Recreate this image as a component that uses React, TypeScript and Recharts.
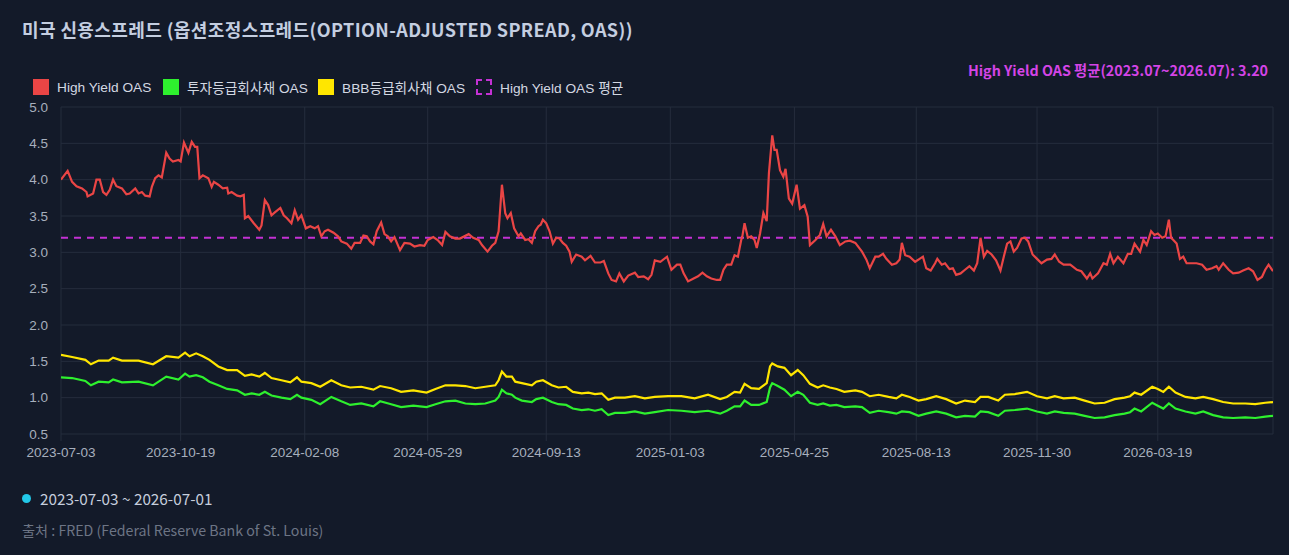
import React from 'react';
import { LineChart, Line, XAxis, YAxis, CartesianGrid, ReferenceLine } from 'recharts';

// x values are days since 2023-07-03
const START_DATE = '2023-07-03';
const END_DATE = '2026-07-01';

const tickDates = ['2023-07-03', '2023-10-19', '2024-02-08', '2024-05-29', '2024-09-13', '2025-01-03', '2025-04-25', '2025-08-13', '2025-11-30', '2026-03-19'];
const yTicks = [0.5, 1.0, 1.5, 2.0, 2.5, 3.0, 3.5, 4.0, 4.5, 5.0];
const hyAverage = 3.2;

// High Yield OAS: [day, value]
const hyPoints: [number, number][] = [
  [0,4.00],[6,4.12],[10,3.97],[14,3.91],[19,3.88],[23,3.83],[24,3.77],[29,3.81],[32,4.00],[35,4.00],
  [38,3.83],[41,3.79],[44,3.86],[47,4.00],[50,3.91],[55,3.88],[59,3.80],[62,3.81],[67,3.88],[70,3.81],
  [73,3.83],[76,3.78],[80,3.77],[82,3.90],[85,4.02],[88,4.06],[91,4.03],[95,4.37],[98,4.29],[101,4.25],
  [106,4.27],[108,4.25],[111,4.51],[115,4.37],[118,4.52],[121,4.45],[123,4.45],[125,4.02],[128,4.06],[133,4.02],
  [136,3.90],[138,3.97],[142,3.93],[146,3.88],[150,3.89],[151,3.81],[154,3.83],[159,3.78],[162,3.77],[165,3.79],
  [166,3.47],[169,3.50],[174,3.40],[179,3.31],[181,3.37],[184,3.72],[187,3.65],[190,3.51],[193,3.55],[198,3.61],
  [201,3.51],[204,3.47],[208,3.40],[211,3.58],[214,3.45],[217,3.51],[221,3.33],[225,3.36],[229,3.33],[232,3.36],
  [235,3.22],[238,3.29],[241,3.31],[246,3.27],[250,3.22],[253,3.15],[258,3.12],[262,3.05],[265,3.13],[270,3.13],
  [273,3.23],[276,3.22],[279,3.15],[282,3.11],[285,3.29],[289,3.41],[292,3.25],[295,3.22],[298,3.15],[301,3.21],
  [306,3.03],[310,3.13],[315,3.12],[319,3.08],[324,3.10],[328,3.09],[331,3.17],[336,3.21],[340,3.17],[344,3.10],
  [347,3.28],[351,3.22],[356,3.19],[360,3.19],[368,3.25],[372,3.20],[377,3.17],[380,3.10],[385,3.01],[389,3.09],
  [392,3.13],[395,3.29],[397,3.72],[398,3.93],[401,3.54],[403,3.47],[406,3.54],[409,3.33],[413,3.22],[415,3.26],
  [419,3.17],[422,3.18],[425,3.13],[428,3.29],[431,3.36],[433,3.38],[435,3.45],[438,3.40],[441,3.29],[444,3.12],
  [447,3.20],[450,3.19],[453,3.13],[456,3.09],[459,3.01],[461,2.87],[465,2.97],[470,2.94],[473,2.89],[478,2.95],
  [482,2.86],[487,2.86],[490,2.88],[494,2.71],[497,2.62],[501,2.60],[504,2.71],[508,2.60],[512,2.68],[518,2.72],
  [521,2.66],[526,2.67],[530,2.63],[533,2.69],[536,2.89],[541,2.87],[547,2.94],[551,2.76],[556,2.83],[559,2.83],
  [562,2.71],[566,2.60],[571,2.64],[575,2.67],[579,2.72],[583,2.67],[587,2.64],[592,2.62],[595,2.62],[598,2.76],
  [601,2.83],[605,2.83],[608,2.96],[611,2.94],[614,3.17],[615,3.22],[617,3.40],[620,3.20],[623,3.22],[626,3.17],
  [628,3.06],[631,3.26],[634,3.54],[637,3.43],[639,4.09],[642,4.61],[644,4.41],[646,4.41],[649,4.13],[652,4.04],
  [654,4.15],[657,3.74],[660,3.67],[664,3.93],[667,3.60],[671,3.65],[674,3.49],[676,3.10],[681,3.17],[685,3.24],
  [688,3.39],[691,3.22],[695,3.31],[699,3.22],[703,3.10],[708,3.15],[712,3.16],[717,3.13],[723,3.01],[727,2.90],
  [730,2.78],[735,2.94],[738,2.94],[742,2.98],[745,2.91],[750,2.83],[754,2.85],[757,2.90],[759,3.13],[762,2.96],
  [766,2.94],[771,2.87],[775,2.91],[778,2.94],[781,2.78],[785,2.75],[789,2.85],[791,2.91],[795,2.83],[798,2.85],
  [802,2.77],[805,2.78],[808,2.69],[812,2.71],[816,2.76],[820,2.81],[824,2.75],[827,2.85],[830,3.20],[833,2.94],
  [836,3.02],[840,2.97],[844,2.89],[848,2.75],[851,2.94],[854,3.12],[857,3.15],[860,3.01],[863,3.06],[867,3.19],
  [870,3.20],[873,3.15],[877,2.97],[881,2.91],[885,2.85],[890,2.90],[894,2.91],[897,2.97],[901,2.87],[905,2.83],
  [911,2.83],[917,2.76],[921,2.74],[926,2.64],[929,2.71],[931,2.64],[936,2.71],[941,2.85],[944,2.83],[947,2.98],
  [950,2.85],[954,2.94],[959,2.85],[963,2.98],[966,2.98],[969,3.12],[974,3.01],[977,3.17],[980,3.10],[984,3.29],
  [987,3.24],[990,3.26],[994,3.20],[997,3.22],[1000,3.45],[1002,3.20],[1004,3.17],[1007,3.12],[1010,2.91],[1013,2.94],
  [1016,2.85],[1021,2.85],[1025,2.85],[1030,2.83],[1034,2.76],[1039,2.78],[1043,2.81],[1045,2.76],[1049,2.85],[1054,2.76],
  [1058,2.71],[1063,2.72],[1067,2.75],[1072,2.78],[1076,2.74],[1080,2.62],[1084,2.66],[1087,2.76],[1090,2.83],[1094,2.74],
];

// BBB and investment grade OAS: [day, BBB, IG]
const gradePoints: [number, number, number][] = [
  [0,1.59,1.28],[10,1.56,1.27],[22,1.52,1.23],[27,1.46,1.17],[34,1.51,1.22],[43,1.51,1.21],[47,1.55,1.25],[55,1.51,1.21],
  [70,1.51,1.22],[83,1.46,1.17],[95,1.57,1.29],[106,1.55,1.25],[112,1.62,1.33],[116,1.57,1.29],[122,1.61,1.31],[128,1.57,1.28],
  [134,1.52,1.22],[142,1.43,1.17],[150,1.38,1.12],[159,1.38,1.10],[166,1.30,1.04],[172,1.32,1.06],[179,1.29,1.04],[184,1.34,1.08],
  [190,1.27,1.03],[199,1.24,1.00],[207,1.21,0.98],[213,1.28,1.04],[217,1.22,1.00],[226,1.20,0.97],[234,1.15,0.91],[244,1.24,1.01],
  [253,1.17,0.95],[261,1.14,0.90],[271,1.15,0.92],[282,1.11,0.88],[288,1.16,0.95],[298,1.13,0.91],[307,1.08,0.87],[318,1.10,0.89],
  [330,1.07,0.87],[338,1.12,0.91],[347,1.17,0.95],[356,1.17,0.96],[365,1.16,0.92],[374,1.13,0.91],[383,1.15,0.92],[392,1.17,0.96],
  [395,1.24,1.01],[398,1.36,1.11],[402,1.29,1.06],[407,1.29,1.04],[410,1.22,1.00],[416,1.20,0.96],[425,1.17,0.94],[429,1.22,0.98],
  [435,1.24,1.00],[443,1.17,0.94],[449,1.14,0.91],[456,1.15,0.90],[462,1.08,0.85],[470,1.06,0.83],[476,1.07,0.84],[482,1.05,0.82],
  [488,1.06,0.84],[494,0.97,0.76],[500,1.00,0.79],[509,1.00,0.79],[518,1.02,0.81],[527,0.99,0.78],[536,1.01,0.80],[548,1.02,0.83],
  [560,1.02,0.82],[572,0.99,0.80],[584,1.04,0.82],[595,0.98,0.78],[601,1.01,0.82],[608,1.08,0.88],[613,1.07,0.88],[617,1.19,0.96],
  [623,1.13,0.90],[630,1.12,0.90],[637,1.20,0.94],[640,1.43,1.14],[642,1.47,1.20],[647,1.43,1.16],[653,1.41,1.11],[659,1.31,1.02],
  [665,1.38,1.08],[670,1.31,1.04],[676,1.19,0.93],[683,1.14,0.90],[688,1.17,0.92],[694,1.14,0.89],[700,1.12,0.90],[707,1.08,0.87],
  [717,1.10,0.88],[723,1.08,0.87],[730,1.02,0.79],[738,1.04,0.82],[747,1.01,0.80],[754,0.99,0.78],[759,1.04,0.81],[766,1.01,0.80],
  [774,0.96,0.75],[781,0.98,0.78],[790,1.02,0.81],[799,0.98,0.78],[808,0.92,0.73],[816,0.96,0.75],[825,0.94,0.74],[830,1.01,0.81],
  [837,1.01,0.80],[846,0.96,0.75],[852,1.04,0.82],[861,1.05,0.83],[872,1.08,0.85],[881,1.02,0.81],[890,0.99,0.78],[897,1.02,0.81],
  [905,0.99,0.79],[915,1.00,0.78],[924,0.96,0.75],[933,0.92,0.72],[942,0.93,0.73],[951,0.98,0.76],[960,1.00,0.78],[965,1.02,0.80],
  [969,1.07,0.85],[975,1.04,0.81],[985,1.15,0.93],[990,1.12,0.89],[995,1.08,0.85],[1000,1.15,0.92],[1006,1.07,0.85],[1015,1.01,0.81],
  [1024,0.99,0.78],[1031,1.01,0.81],[1040,0.98,0.76],[1049,0.94,0.73],[1058,0.92,0.72],[1069,0.92,0.73],[1078,0.91,0.72],[1087,0.93,0.74],
  [1094,0.94,0.75],
];

const DAY_MS = 86400000;
const toMs = (s: string) => Date.parse(s + 'T00:00:00Z');
const startMs = toMs(START_DATE);
const endDay = Math.round((toMs(END_DATE) - startMs) / DAY_MS);
const dayOf = (s: string) => Math.round((toMs(s) - startMs) / DAY_MS);
const fmtDay = (d: number) => new Date(startMs + d * DAY_MS).toISOString().slice(0, 10);

const hyData = hyPoints.map(([d, v]) => ({ d, v }));
const bbbData = gradePoints.map(([d, b]) => ({ d, v: b }));
const igData = gradePoints.map(([d, , g]) => ({ d, v: g }));
const xTicks = tickDates.map(dayOf);

const BG = '#131a29';
const GRID = '#252d3d';
const HY_COLOR = '#ea4545';
const IG_COLOR = '#2ef02e';
const BBB_COLOR = '#ffe600';
const AVG_COLOR = '#c331d4';
const FONT = "'Liberation Sans', 'Noto Sans CJK KR', sans-serif";
const KFONT = "'Noto Sans CJK KR', 'Liberation Sans', sans-serif";

const legendItems = [
  { label: 'High Yield OAS', color: HY_COLOR, dashed: false, left: 33 },
  { label: '투자등급회사채 OAS', color: IG_COLOR, dashed: false, left: 163 },
  { label: 'BBB등급회사채 OAS', color: BBB_COLOR, dashed: false, left: 318 },
  { label: 'High Yield OAS 평균', color: AVG_COLOR, dashed: true, left: 476 },
];

export default function App() {
  return (
    <div style={{ position: 'absolute', left: 0, top: 0, width: 1289, height: 555, background: BG, overflow: 'hidden', fontFamily: FONT }}>
      <div style={{ position: 'absolute', left: 22, top: 16, fontFamily: KFONT, fontWeight: 700, fontSize: 18, letterSpacing: 0.4, color: '#c4cee0', whiteSpace: 'nowrap' }}>
        미국 신용스프레드 (옵션조정스프레드(OPTION-ADJUSTED SPREAD, OAS))
      </div>
      <div style={{ position: 'absolute', right: 21, top: 59, fontFamily: KFONT, fontWeight: 700, fontSize: 14.3, color: '#d444e6', whiteSpace: 'nowrap' }}>
        High Yield OAS 평균(2023.07~2026.07): {hyAverage.toFixed(2)}
      </div>
      {legendItems.map((it) => (
        <div key={it.label} style={{ position: 'absolute', left: it.left, top: 79, display: 'flex', alignItems: 'center', height: 16 }}>
          <div style={{ width: it.dashed ? 12 : 16, height: it.dashed ? 12 : 16, boxSizing: 'content-box', background: it.dashed ? 'transparent' : it.color, border: it.dashed ? `2px dashed ${it.color}` : 'none' }} />
          <span style={{ marginLeft: 8, fontSize: 13.7, color: '#d3d8e2', whiteSpace: 'nowrap' }}>{it.label}</span>
        </div>
      ))}
      <div style={{ position: 'absolute', left: 0, top: 0 }}>
        <LineChart width={1289} height={470} margin={{ top: 107, right: 16, bottom: 6, left: 0 }}>
          <CartesianGrid stroke={GRID} strokeWidth={1} />
          <XAxis
            type="number"
            dataKey="d"
            domain={[0, endDay]}
            ticks={xTicks}
            tickFormatter={fmtDay}
            interval={0}
            height={30}
            axisLine={false}
            tickLine={{ stroke: GRID }}
            tickSize={7}
            tickMargin={6}
            tick={{ fill: '#a7afbd', fontSize: 13.5, fontFamily: FONT }}
            allowDataOverflow
          />
          <YAxis
            type="number"
            domain={[0.5, 5]}
            ticks={yTicks}
            tickFormatter={(v: number) => v.toFixed(1)}
            interval={0}
            width={61}
            axisLine={false}
            tickLine={false}
            tickMargin={7}
            tick={{ fill: '#a7afbd', fontSize: 13.5, fontFamily: FONT }}
            allowDataOverflow
          />
          <ReferenceLine y={hyAverage} stroke={AVG_COLOR} strokeWidth={2} strokeDasharray="7 6" />
          <Line data={bbbData} dataKey="v" type="linear" stroke={BBB_COLOR} strokeWidth={2.2} dot={false} isAnimationActive={false} />
          <Line data={igData} dataKey="v" type="linear" stroke={IG_COLOR} strokeWidth={2.2} dot={false} isAnimationActive={false} />
          <Line data={hyData} dataKey="v" type="linear" stroke={HY_COLOR} strokeWidth={2.2} dot={false} isAnimationActive={false} />
        </LineChart>
      </div>
      <div style={{ position: 'absolute', left: 22, top: 488, display: 'flex', alignItems: 'center', height: 20 }}>
        <div style={{ width: 9, height: 9, borderRadius: '50%', background: '#22c8e8' }} />
        <span style={{ marginLeft: 9, fontSize: 15.3, color: '#c6cedd', whiteSpace: 'nowrap', fontFamily: KFONT }}>{START_DATE} ~ {END_DATE}</span>
      </div>
      <div style={{ position: 'absolute', left: 22, top: 520, fontSize: 14.2, color: '#6d7585', whiteSpace: 'nowrap', fontFamily: KFONT }}>
        출처 : FRED (Federal Reserve Bank of St. Louis)
      </div>
    </div>
  );
}
